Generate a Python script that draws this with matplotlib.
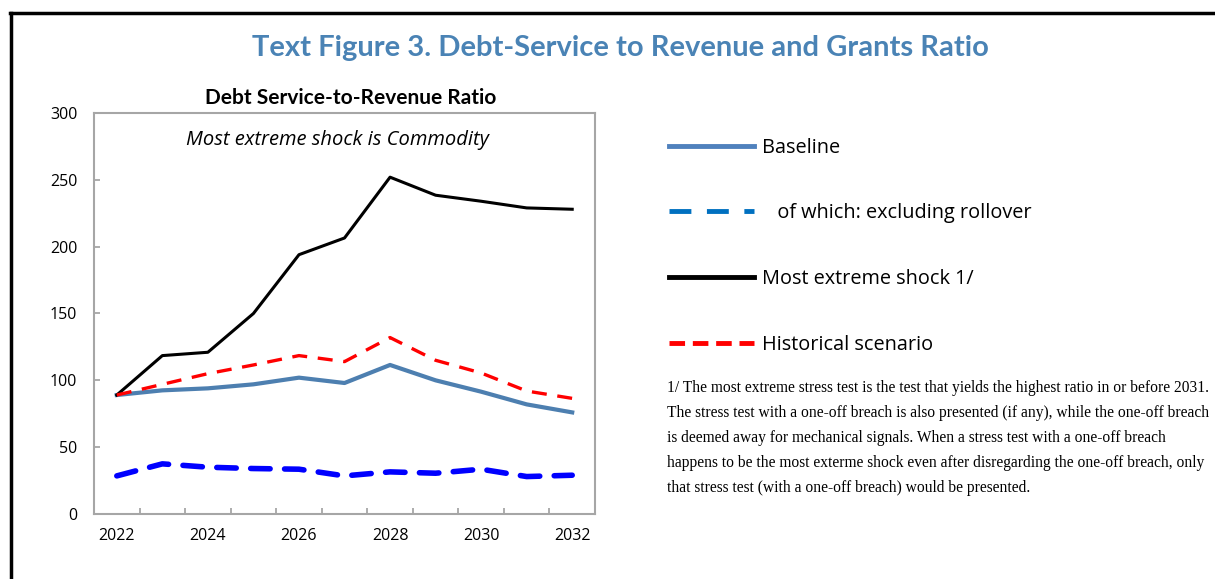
import numpy as np
import matplotlib
matplotlib.use("Agg")
import matplotlib.pyplot as plt
from matplotlib.lines import Line2D

# data
years = np.arange(2022, 2033)
baseline = [89, 92.5, 94, 97, 102, 98, 111.5, 100, 91.5, 82, 76]
excl_rollover = [28.5, 37.5, 35, 34, 33.5, 28.5, 31.5, 30.5, 33.5, 28, 29]
extreme_shock = [89, 118.5, 121, 150, 194, 206.5, 252, 238.5, 234, 229, 228]
historical = [89, 97, 105, 111.5, 118.5, 114, 132, 115, 105.5, 92, 86.5]

tick_years = [2022, 2024, 2026, 2028, 2030, 2032]
y_ticks = [0, 50, 100, 150, 200, 250, 300]

legend_labels = ["Baseline", "   of which: excluding rollover",
                 "Most extreme shock 1/", "Historical scenario"]

footnote = ("1/ The most extreme stress test is the test that yields the highest ratio in or before 2031.\n"
            "The stress test with a one-off breach is also presented (if any), while the one-off breach\n"
            "is deemed away for mechanical signals. When a stress test with a one-off breach\n"
            "happens to be the most exterme shock even after disregarding the one-off breach, only\n"
            "that stress test (with a one-off breach) would be presented.")

plt.rcParams['font.family'] = ['Open Sans', 'DejaVu Sans']

fig = plt.figure(figsize=(12.15, 5.79), dpi=100)
ax = fig.add_axes([0.0774, 0.1123, 0.4123, 0.6925])

# series
ax.plot(years, baseline, color='#4d7fb0', linewidth=3)
ax.plot(years, excl_rollover, color='#0000ff', linewidth=4, dashes=(3.5, 2.6),
        dash_capstyle='round')
ax.plot(years, extreme_shock, color='black', linewidth=2.2)
ax.plot(years, historical, color='#ff0000', linewidth=2.4, dashes=(4.5, 3.2))

ax.set_xlim(2021.5, 2032.5)
ax.set_ylim(0, 300)
ax.set_yticks(y_ticks)
ax.set_xticks(tick_years)
ax.set_xticks(np.arange(2022.5, 2032, 1), minor=True)
ax.tick_params(axis='x', which='major', length=0, pad=10, labelsize=11.5)
ax.tick_params(axis='x', which='minor', direction='in', length=4,
               width=1.3, color='#a6a6a6')
ax.tick_params(axis='y', direction='in', length=4, width=1.3,
               color='#a6a6a6', pad=12, labelsize=11.5)
for s in ax.spines.values():
    s.set_color('#a6a6a6')
    s.set_linewidth(1.5)

ax.text(0.513, 1.012, "Debt Service-to-Revenue Ratio", transform=ax.transAxes,
        ha='center', va='bottom', fontsize=15, fontweight='bold', family='Lato')
ax.text(0.485, 0.933, "Most extreme shock is Commodity", transform=ax.transAxes,
        ha='center', va='center', fontsize=14.5, style='italic')

# figure title
fig.text(0.511, 0.917, "Text Figure 3. Debt-Service to Revenue and Grants Ratio",
         ha='center', va='center', fontsize=21, fontweight='bold',
         color='#4a83b5', family='Lato')

# legend
handles = [
    Line2D([], [], color='#4f81bd', linewidth=3.5),
    Line2D([], [], color='#0070c0', linewidth=3.5, dashes=(4.5, 3.2)),
    Line2D([], [], color='black', linewidth=3.5),
    Line2D([], [], color='#ff0000', linewidth=3.5, dashes=(3.2, 1.6)),
]
fig.legend(handles, legend_labels, loc='upper left',
           bbox_to_anchor=(0.536, 0.793), frameon=False, fontsize=14.3,
           handlelength=4.25, handletextpad=0.45, labelspacing=2.3)

fig.text(0.549, 0.343, footnote, ha='left', va='top', fontsize=11.2,
         family='Liberation Serif', linespacing=1.75)

# frame lines (top and left)
fig.add_artist(Line2D([0.008, 1.0], [0.978, 0.978], transform=fig.transFigure,
                      color='black', linewidth=2.5))
fig.add_artist(Line2D([0.009, 0.009], [0.0, 0.978], transform=fig.transFigure,
                      color='black', linewidth=2.5))

fig.savefig('out.png', dpi=100, facecolor='white')
